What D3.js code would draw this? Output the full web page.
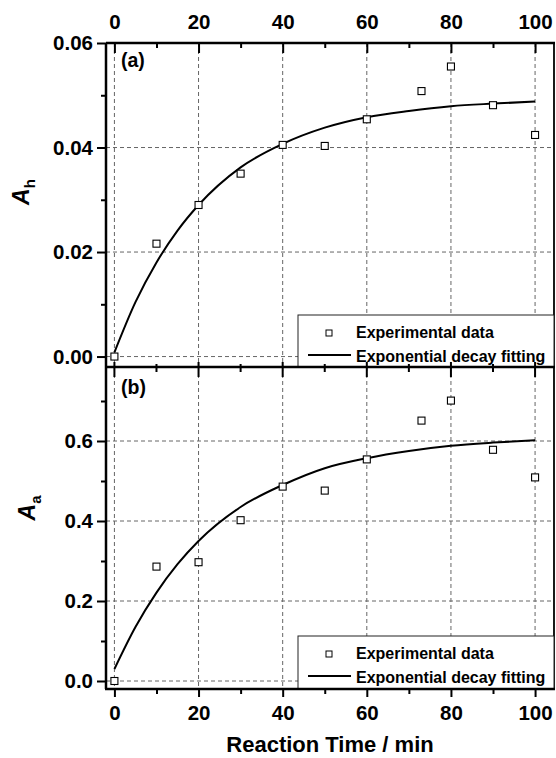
<!DOCTYPE html>
<html>
<head>
<meta charset="utf-8">
<script src="https://cdn.jsdelivr.net/npm/d3@7"></script>
<style>
  body { margin: 0; background: #fff; }
  text { font-family: "Liberation Sans", Arial, sans-serif; font-weight: bold; fill: #000; }
</style>
</head>
<body>
<svg width="556" height="758"></svg>
<script>
// reaction time (min) of the measured points
var timeX = [0, 10, 20, 30, 40, 50, 60, 73, 80, 90, 100];
// panel (a) A_h measured
var ahData = [0.0000, 0.0216, 0.0290, 0.0350, 0.0405, 0.0403, 0.0454, 0.0508, 0.0555, 0.0481, 0.0424];
// panel (b) A_a measured
var aaData = [0.000, 0.286, 0.297, 0.402, 0.486, 0.476, 0.554, 0.651, 0.701, 0.578, 0.509];

// fitted curves
var fitX  = [0, 5, 10, 15, 20, 30, 40, 50, 60, 70, 80, 90, 100];
var ahFit = [0.0008, 0.0104, 0.0180, 0.0241, 0.0290, 0.0362, 0.0407, 0.0438, 0.0458, 0.0470, 0.0479, 0.0484, 0.0488];
var aaFit = [0.030, 0.135, 0.221, 0.292, 0.350, 0.435, 0.490, 0.532, 0.557, 0.575, 0.588, 0.596, 0.602];

var xTicks = [0, 20, 40, 60, 80, 100];
var xMinor = [10, 30, 50, 70, 90];
var ahTicks = [0.00, 0.02, 0.04, 0.06];
var ahMinor = [0.01, 0.03, 0.05];
var aaTicks = [0.0, 0.2, 0.4, 0.6];
var aaMinor = [0.1, 0.3, 0.5, 0.7];

var legendLabels = ["Experimental data", "Exponential decay fitting"];

var svg = d3.select("svg");

var x = d3.scaleLinear().domain([-2, 104.5]).range([106, 554]);
var left = 106, right = 554;

var grid = svg.append("g");
var marks = svg.append("g");
var axes = svg.append("g");

function styleLabels(g) {
  g.attr("font-size", null).attr("font-family", null);
  g.selectAll("text").attr("font-size", 20.5).attr("fill", "#000");
  g.selectAll("line").attr("stroke-width", 2);
  g.select(".domain").remove();
}

function panel(cfg) {
  var y = d3.scaleLinear().domain(cfg.domain).range([cfg.bottom, cfg.top]);

  // grid
  grid.selectAll(null).data(xTicks).enter().append("line")
    .attr("x1", d => x(d)).attr("x2", d => x(d))
    .attr("y1", cfg.top).attr("y2", cfg.bottom)
    .attr("stroke", "#666").attr("stroke-width", 1).attr("stroke-dasharray", "4,3");
  grid.selectAll(null).data(cfg.ticks.filter(d => y(d) > cfg.top + 2)).enter().append("line")
    .attr("x1", left).attr("x2", right)
    .attr("y1", d => y(d)).attr("y2", d => y(d))
    .attr("stroke", "#666").attr("stroke-width", 1).attr("stroke-dasharray", "4,3");

  // fit line
  var line = d3.line().x((d, i) => x(fitX[i])).y(d => y(d)).curve(d3.curveMonotoneX);
  marks.append("path").datum(cfg.fit)
    .attr("d", line).attr("fill", "none").attr("stroke", "#000").attr("stroke-width", 2);

  // points
  marks.selectAll(null).data(cfg.data).enter().append("rect")
    .attr("x", (d, i) => x(timeX[i]) - 3.5).attr("y", d => y(d) - 3.5)
    .attr("width", 7).attr("height", 7)
    .attr("fill", "#fff").attr("stroke", "#000").attr("stroke-width", 1.1);

  // y axis
  var ya = axes.append("g").attr("transform", "translate(" + left + ",0)")
    .call(d3.axisLeft(y).tickValues(cfg.ticks).tickFormat(d3.format(cfg.fmt)).tickSize(9).tickPadding(4));
  styleLabels(ya);
  var ym = axes.append("g").attr("transform", "translate(" + left + ",0)")
    .call(d3.axisLeft(y).tickValues(cfg.minor).tickFormat("").tickSize(5));
  styleLabels(ym);

  // frame
  axes.append("line").attr("x1", left).attr("x2", left).attr("y1", cfg.top).attr("y2", cfg.bottom)
    .attr("stroke", "#000").attr("stroke-width", 2.5);
  axes.append("line").attr("x1", right).attr("x2", right).attr("y1", cfg.top).attr("y2", cfg.bottom)
    .attr("stroke", "#000").attr("stroke-width", 1.8);

  // y title
  var t = axes.append("text")
    .attr("transform", "translate(" + cfg.titleX + "," + cfg.titleY + ") rotate(-90)")
    .attr("text-anchor", "middle").attr("font-size", 23);
  t.append("tspan").attr("font-style", "italic").text("A");
  t.append("tspan").attr("font-size", 15).attr("dy", 6).text(cfg.sub);

  // panel label
  axes.append("text").attr("x", 121).attr("y", cfg.labelY).attr("font-size", 19.5).text(cfg.label);

  // legend
  var lg = axes.append("g").attr("transform", "translate(0," + cfg.legTop + ")");
  lg.append("rect").attr("x", 298).attr("y", 0).attr("width", right - 298).attr("height", cfg.bottom - cfg.legTop)
    .attr("fill", "#fff").attr("stroke", "#222").attr("stroke-width", 1);
  lg.append("rect").attr("x", 326).attr("y", 15).attr("width", 6).attr("height", 6)
    .attr("fill", "#fff").attr("stroke", "#000").attr("stroke-width", 1);
  lg.append("line").attr("x1", 308).attr("x2", 351).attr("y1", 40).attr("y2", 40)
    .attr("stroke", "#000").attr("stroke-width", 2);
  lg.selectAll(null).data(legendLabels).enter().append("text")
    .attr("x", 356).attr("y", (d, i) => 23 + i * 23.5)
    .attr("font-size", 16).text(d => d);

  return y;
}

panel({ domain: [-0.002, 0.06], top: 43, bottom: 367, ticks: ahTicks, minor: ahMinor, fmt: ".2f",
  data: ahData, fit: ahFit, sub: "h", titleX: 29, titleY: 192, label: "(a)", labelY: 67, legTop: 315 });
panel({ domain: [-0.02, 0.785], top: 367, bottom: 689, ticks: aaTicks, minor: aaMinor, fmt: ".1f",
  data: aaData, fit: aaFit, sub: "a", titleX: 35, titleY: 508, label: "(b)", labelY: 394, legTop: 636 });

// top axis of (a)
var topAx = axes.append("g").attr("transform", "translate(0,43)")
  .call(d3.axisTop(x).tickValues(xTicks).tickSize(-10).tickPadding(14));
styleLabels(topAx);
var topMinor = axes.append("g").attr("transform", "translate(0,43)")
  .call(d3.axisTop(x).tickValues(xMinor).tickSize(-5).tickFormat(""));
styleLabels(topMinor);
axes.append("line").attr("x1", left).attr("x2", right + 1).attr("y1", 43).attr("y2", 43)
  .attr("stroke", "#000").attr("stroke-width", 2.5);

// shared middle axis
axes.selectAll(null).data(xTicks).enter().append("line")
  .attr("x1", d => x(d)).attr("x2", d => x(d)).attr("y1", 362).attr("y2", 377)
  .attr("stroke", "#000").attr("stroke-width", 2);
axes.selectAll(null).data(xMinor).enter().append("line")
  .attr("x1", d => x(d)).attr("x2", d => x(d)).attr("y1", 364).attr("y2", 372)
  .attr("stroke", "#000").attr("stroke-width", 2);
axes.append("line").attr("x1", left).attr("x2", right + 1).attr("y1", 367).attr("y2", 367)
  .attr("stroke", "#000").attr("stroke-width", 2.5);

// bottom axis of (b)
var botAx = axes.append("g").attr("transform", "translate(0,689)")
  .call(d3.axisBottom(x).tickValues(xTicks).tickSize(8).tickPadding(8));
styleLabels(botAx);
var botMinor = axes.append("g").attr("transform", "translate(0,689)")
  .call(d3.axisBottom(x).tickValues(xMinor).tickSize(5).tickFormat(""));
styleLabels(botMinor);
axes.append("line").attr("x1", left - 1).attr("x2", right + 1).attr("y1", 689).attr("y2", 689)
  .attr("stroke", "#000").attr("stroke-width", 2.5);

// x title
axes.append("text").attr("x", (left + right) / 2).attr("y", 752)
  .attr("text-anchor", "middle").attr("font-size", 22).text("Reaction Time / min");
</script>
</body>
</html>
